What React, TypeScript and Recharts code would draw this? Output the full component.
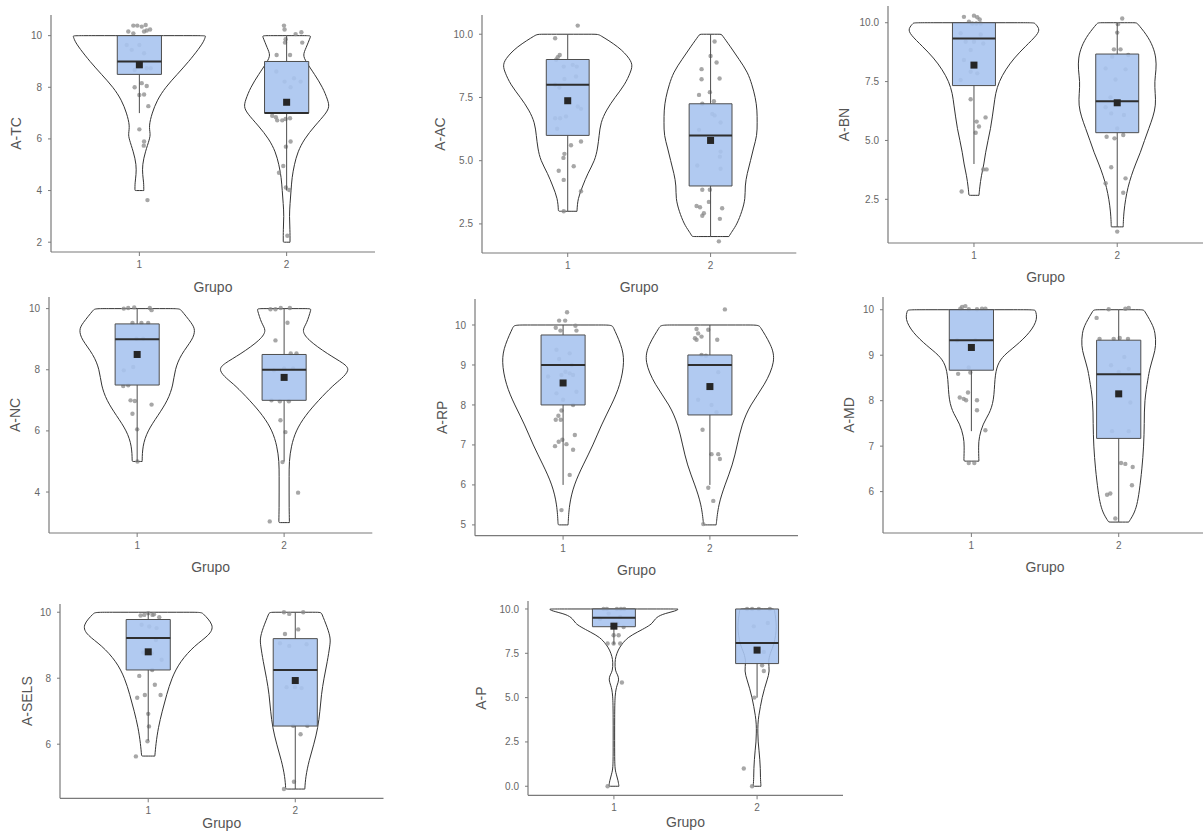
import {
  ComposedChart,
  Scatter,
  XAxis,
  YAxis,
  ReferenceArea,
  ReferenceLine,
} from "recharts";

type Pt = [number, number];

// ---- A-TC ----
const atcViolinY1 = [4, 4.3, 4.6, 5, 5.5, 6, 6.2, 6.5, 7, 7.5, 8, 8.5, 9, 9.5, 9.8, 10];
const atcViolinW1 = [0.03, 0.03, 0.022, 0.02, 0.04, 0.07, 0.075, 0.064, 0.086, 0.12, 0.177, 0.257, 0.336, 0.405, 0.44, 0.45];
const atcViolinY2 = [2, 2.5, 3, 3.5, 4, 4.5, 5, 5.5, 6, 6.5, 7, 7.25, 7.5, 8, 8.5, 9, 9.25, 9.5, 10];
const atcViolinW2 = [0.023, 0.023, 0.018, 0.023, 0.03, 0.036, 0.052, 0.075, 0.12, 0.19, 0.27, 0.29, 0.28, 0.245, 0.19, 0.13, 0.11, 0.13, 0.165];
const atcBox1 = [7, 8.5, 9, 10, 10];
const atcBox2 = [4, 7, 7, 9, 10];
const atcMeans = [8.87, 7.42];
const atcPoints1: Pt[] = [[-0.041, 10.39], [-0.014, 10.39], [0.016, 10.35], [0.043, 10.41], [0.073, 10.24], [-0.075, 10.16], [-0.041, 10.09], [0.032, 10.16], [0.05, 10.2], [-0.086, 9.64], [0.0, 9.64], [-0.052, 9.45], [0.032, 9.32], [-0.009, 8.8], [0.05, 8.74], [-0.032, 8.67], [0.077, 8.74], [0.016, 8.16], [-0.032, 8.0], [0.05, 8.05], [0.0, 7.7], [0.032, 7.72], [0.061, 7.27], [0.0, 6.37], [0.032, 5.9], [0.03, 5.74], [0.055, 3.63]];
const atcPoints2: Pt[] = [[-0.018, 10.39], [-0.014, 10.24], [0.061, 10.06], [0.1, 10.13], [-0.007, 9.86], [-0.011, 9.73], [0.106, 9.73], [-0.068, 9.25], [0.023, 9.25], [-0.07, 8.61], [-0.014, 8.22], [0.05, 8.35], [0.095, 8.22], [0.027, 8.0], [-0.098, 6.9], [-0.064, 6.72], [-0.03, 6.72], [-0.007, 6.77], [0.023, 6.8], [-0.073, 6.84], [-0.005, 5.7], [0.027, 5.9], [-0.023, 4.95], [-0.052, 4.69], [-0.005, 4.12], [0.018, 4.02], [0.005, 2.25]];

// ---- A-AC ----
const aacViolinY1 = [3, 3.5, 4, 4.5, 5, 5.5, 6, 6.5, 7, 7.5, 8, 8.5, 8.75, 9, 9.5, 10];
const aacViolinW1 = [0.065, 0.07, 0.105, 0.14, 0.19, 0.21, 0.22, 0.23, 0.27, 0.33, 0.4, 0.44, 0.453, 0.44, 0.36, 0.214];
const aacViolinY2 = [2, 2.2, 2.5, 3, 3.5, 4, 4.5, 5, 5.5, 6, 6.5, 7, 7.5, 8, 8.5, 9, 9.5, 10];
const aacViolinW2 = [0.128, 0.15, 0.186, 0.22, 0.244, 0.24, 0.256, 0.28, 0.3, 0.326, 0.326, 0.326, 0.314, 0.29, 0.26, 0.2, 0.14, 0.076];
const aacBox1 = [3, 6, 8, 9, 10];
const aacBox2 = [2, 4, 6, 7.25, 10];
const aacMeans = [7.37, 5.8];
const aacPoints1: Pt[] = [[-0.088, 9.84], [0.07, 10.34], [-0.07, 9.09], [-0.056, 9.18], [-0.081, 8.99], [-0.028, 8.72], [0.035, 8.79], [0.063, 8.72], [-0.023, 8.23], [0.058, 8.33], [-0.088, 8.0], [-0.058, 7.89], [0.07, 7.14], [0.093, 7.05], [-0.088, 6.68], [-0.053, 6.68], [-0.012, 6.75], [-0.074, 6.26], [0.023, 5.61], [0.093, 5.76], [-0.023, 5.27], [-0.03, 5.11], [0.042, 4.78], [-0.063, 4.6], [-0.028, 4.24], [0.093, 3.79], [-0.028, 3.0]];
const aacPoints2: Pt[] = [[0.028, 9.71], [0.0, 9.14], [0.042, 8.88], [-0.063, 8.62], [-0.063, 8.22], [0.063, 8.25], [-0.005, 7.71], [-0.081, 7.6], [0.023, 7.35], [-0.058, 7.25], [0.012, 6.85], [0.028, 6.79], [0.07, 6.51], [-0.081, 6.22], [0.07, 5.36], [0.065, 5.16], [-0.093, 4.81], [0.07, 4.68], [-0.058, 3.85], [-0.005, 3.85], [-0.012, 3.37], [-0.098, 3.21], [-0.074, 3.16], [-0.047, 2.92], [-0.058, 2.82], [0.081, 3.12], [0.065, 2.7], [0.058, 1.81]];

// ---- A-BN ----
const abnViolinY1 = [2.67, 3, 3.5, 4, 4.5, 5, 5.5, 6, 6.5, 7, 7.5, 8, 8.5, 9, 9.5, 9.75, 10];
const abnViolinW1 = [0.035, 0.04, 0.051, 0.07, 0.081, 0.098, 0.116, 0.128, 0.14, 0.15, 0.175, 0.22, 0.28, 0.36, 0.445, 0.46, 0.42];
const abnViolinY2 = [1.33, 1.5, 2, 2.5, 3, 3.5, 4, 4.5, 5, 5.5, 6, 6.5, 7, 7.5, 8, 8.5, 9, 9.5, 10];
const abnViolinW2 = [0.042, 0.042, 0.047, 0.058, 0.074, 0.098, 0.128, 0.163, 0.19, 0.22, 0.25, 0.27, 0.265, 0.26, 0.272, 0.272, 0.25, 0.205, 0.136];
const abnBox1 = [4, 7.33, 9.33, 10, 10];
const abnBox2 = [1.33, 5.33, 6.67, 8.67, 10];
const abnMeans = [8.2, 6.6];
const abnPoints1: Pt[] = [[-0.07, 10.25], [0.0, 10.3], [0.023, 10.23], [0.04, 10.14], [-0.035, 10.04], [-0.012, 9.97], [0.016, 9.97], [0.047, 9.97], [-0.093, 9.55], [0.047, 9.5], [-0.058, 9.19], [0.0, 9.19], [-0.023, 8.84], [0.065, 9.12], [-0.07, 8.42], [-0.023, 7.92], [0.023, 7.85], [-0.093, 7.57], [-0.023, 6.75], [0.019, 5.8], [0.035, 5.59], [0.012, 5.33], [0.081, 5.98], [0.065, 3.77], [0.088, 3.77], [-0.086, 2.83]];
const abnPoints2: Pt[] = [[0.035, 10.18], [0.005, 9.94], [0.0, 9.58], [-0.023, 8.87], [0.023, 8.87], [-0.035, 8.56], [0.077, 8.63], [0.058, 8.02], [-0.081, 8.06], [-0.012, 7.59], [-0.047, 6.83], [-0.081, 6.41], [-0.042, 6.15], [0.047, 6.08], [0.0, 5.51], [-0.074, 5.16], [-0.019, 5.09], [0.042, 5.23], [-0.042, 3.86], [-0.081, 3.18], [0.058, 3.39], [0.042, 2.78], [0.0, 1.13]];

// ---- A-NC ----
const ancViolinY1 = [5, 5.5, 6, 6.5, 7, 7.5, 8, 8.5, 9, 9.3, 9.5, 10];
const ancViolinW1 = [0.034, 0.036, 0.07, 0.141, 0.209, 0.245, 0.256, 0.297, 0.38, 0.395, 0.376, 0.29];
const ancViolinY2 = [3, 3.5, 4, 4.5, 5, 5.5, 6, 6.5, 7, 7.5, 7.7, 8, 8.2, 8.5, 9, 9.3, 9.5, 10];
const ancViolinW2 = [0.036, 0.034, 0.034, 0.034, 0.034, 0.048, 0.079, 0.143, 0.234, 0.335, 0.39, 0.449, 0.41, 0.3, 0.154, 0.12, 0.154, 0.184];
const ancBox1 = [5, 7.5, 9, 9.5, 10];
const ancBox2 = [5, 7, 8, 8.5, 10];
const ancMeans = [8.5, 7.75];
const ancPoints1: Pt[] = [[-0.091, 10.0], [-0.061, 10.02], [-0.02, 10.04], [0.086, 10.02], [0.098, 9.95], [-0.032, 9.53], [0.029, 9.53], [0.075, 9.53], [-0.005, 9.02], [0.041, 9.02], [-0.027, 8.09], [-0.091, 7.98], [-0.061, 7.49], [-0.095, 7.47], [-0.045, 7.0], [-0.016, 6.98], [-0.032, 6.56], [0.098, 6.86], [0.0, 6.05], [0.002, 5.0]];
const ancPoints2: Pt[] = [[-0.093, 9.98], [-0.059, 9.98], [-0.023, 10.02], [0.039, 10.02], [0.023, 9.54], [-0.059, 8.96], [0.045, 8.53], [0.084, 8.53], [-0.07, 7.98], [0.0, 8.04], [0.061, 8.04], [-0.086, 7.0], [-0.029, 6.97], [0.032, 6.97], [-0.025, 6.35], [0.009, 5.96], [-0.011, 4.98], [0.095, 3.98], [-0.098, 3.04]];

// ---- A-RP ----
const arpViolinY1 = [5, 5.5, 6, 6.5, 7, 7.5, 8, 8.5, 9.1, 9.5, 10];
const arpViolinW1 = [0.034, 0.041, 0.073, 0.136, 0.205, 0.26, 0.33, 0.39, 0.42, 0.398, 0.334];
const arpViolinY2 = [5, 5.5, 6, 6.5, 7, 7.5, 8, 8.5, 9.1, 9.5, 10];
const arpViolinW2 = [0.043, 0.057, 0.102, 0.155, 0.186, 0.216, 0.273, 0.375, 0.448, 0.42, 0.334];
const arpBox1 = [6, 8, 9, 9.75, 10];
const arpBox2 = [6, 7.75, 9, 9.25, 10];
const arpMeans = [8.55, 8.46];
const arpPoints1: Pt[] = [[0.027, 10.32], [-0.027, 10.11], [0.014, 10.11], [-0.05, 9.93], [-0.018, 9.86], [0.084, 9.98], [0.091, 9.86], [-0.045, 9.38], [0.045, 9.29], [-0.027, 9.15], [0.059, 9.0], [0.016, 8.83], [0.045, 8.79], [-0.011, 8.75], [-0.102, 8.71], [0.068, 8.75], [-0.045, 8.29], [0.091, 8.33], [0.0, 8.13], [0.068, 8.0], [-0.011, 7.86], [-0.032, 7.73], [-0.05, 7.63], [-0.016, 7.63], [0.08, 7.25], [-0.005, 7.13], [-0.03, 7.08], [0.023, 7.02], [-0.055, 6.97], [0.068, 6.88], [0.045, 6.25], [-0.011, 5.37]];
const arpPoints2: Pt[] = [[0.102, 10.39], [-0.091, 9.9], [-0.011, 9.88], [-0.08, 9.79], [-0.102, 9.67], [-0.091, 9.63], [-0.057, 9.71], [0.05, 9.63], [-0.057, 9.25], [-0.027, 9.23], [0.057, 8.82], [-0.08, 8.13], [0.011, 8.0], [0.045, 7.82], [-0.05, 7.38], [0.011, 6.77], [0.057, 6.77], [0.068, 6.65], [-0.011, 5.93], [0.023, 5.6], [-0.045, 5.02]];

// ---- A-MD ----
const amdViolinY1 = [6.67, 7, 7.2, 7.5, 7.7, 8, 8.5, 8.8, 9, 9.2, 9.5, 9.8, 10];
const amdViolinW1 = [0.051, 0.048, 0.052, 0.079, 0.12, 0.154, 0.158, 0.176, 0.22, 0.3, 0.4, 0.452, 0.432];
const amdViolinY2 = [5.33, 5.5, 5.7, 6, 6.5, 7, 7.5, 8, 8.5, 8.7, 9, 9.2, 9.5, 9.7, 10];
const amdViolinW2 = [0.068, 0.102, 0.124, 0.14, 0.158, 0.17, 0.174, 0.174, 0.2, 0.21, 0.238, 0.253, 0.249, 0.226, 0.17];
const amdBox1 = [7.33, 8.67, 9.33, 10, 10];
const amdBox2 = [5.33, 7.17, 8.58, 9.33, 10];
const amdMeans = [9.17, 8.15];
const amdPoints1: Pt[] = [[-0.063, 10.06], [-0.041, 10.08], [-0.075, 10.02], [-0.018, 10.01], [0.038, 10.01], [0.072, 10.02], [0.095, 10.02], [-0.097, 9.33], [0.027, 9.33], [-0.018, 8.73], [-0.09, 8.59], [-0.007, 8.62], [-0.079, 8.07], [-0.052, 8.04], [-0.036, 8.01], [-0.023, 8.18], [0.038, 8.01], [0.038, 7.79], [0.095, 7.35], [-0.018, 6.63], [0.02, 6.63]];
const amdPoints2: Pt[] = [[-0.068, 10.01], [0.068, 10.04], [0.045, 10.02], [-0.15, 9.82], [-0.13, 9.36], [-0.034, 9.36], [0.007, 9.38], [0.063, 9.36], [0.038, 8.96], [-0.052, 8.78], [0.0, 8.63], [0.068, 8.7], [-0.016, 8.15], [0.079, 7.96], [-0.045, 7.33], [0.068, 7.33], [0.016, 6.63], [0.045, 6.61], [0.095, 6.54], [-0.079, 5.93], [-0.057, 5.96], [0.09, 6.14], [-0.023, 5.41]];

// ---- A-SELS ----
const aselsViolinY1 = [5.64, 6, 6.5, 7, 7.5, 8, 8.5, 9, 9.3, 9.6, 10];
const aselsViolinW1 = [0.045, 0.052, 0.068, 0.095, 0.125, 0.159, 0.215, 0.317, 0.415, 0.453, 0.363];
const aselsViolinY2 = [4.64, 5, 5.5, 6, 6.5, 7, 7.5, 8, 8.5, 9, 9.2, 9.5, 10];
const aselsViolinW2 = [0.065, 0.07, 0.093, 0.127, 0.154, 0.168, 0.177, 0.195, 0.218, 0.236, 0.24, 0.222, 0.176];
const aselsBox1 = [6.11, 8.25, 9.22, 9.78, 10];
const aselsBox2 = [4.64, 6.55, 8.25, 9.2, 10];
const aselsMeans = [8.8, 7.93];
const aselsPoints1: Pt[] = [[-0.052, 9.9], [-0.027, 9.92], [0.0, 9.97], [0.029, 9.92], [0.039, 9.94], [0.075, 9.85], [0.007, 9.57], [-0.045, 9.62], [0.057, 9.52], [0.052, 9.16], [0.023, 8.76], [-0.034, 8.78], [0.091, 8.56], [0.027, 8.25], [-0.061, 8.07], [0.045, 7.8], [-0.075, 7.41], [-0.023, 7.49], [0.084, 7.49], [0.0, 6.92], [0.005, 6.54], [-0.005, 6.09], [-0.084, 5.63]];
const aselsPoints2: Pt[] = [[-0.077, 10.0], [-0.041, 9.95], [0.054, 10.0], [-0.07, 9.34], [0.02, 9.48], [-0.104, 9.06], [-0.041, 8.98], [0.077, 9.03], [-0.059, 7.73], [-0.002, 7.73], [0.043, 7.7], [-0.014, 6.56], [0.082, 6.56], [0.036, 6.3], [-0.009, 4.86], [-0.077, 4.64]];

// ---- A-P ----
const apViolinY1 = [0, 0.3, 0.7, 1, 2, 4, 5.2, 5.7, 6, 6.3, 6.5, 7, 7.3, 7.7, 8, 8.4, 8.7, 9, 9.2, 9.45, 9.7, 9.9, 10];
const apViolinW1 = [0.035, 0.03, 0.016, 0.006, 0.005, 0.005, 0.007, 0.021, 0.037, 0.026, 0.009, 0.007, 0.012, 0.03, 0.054, 0.096, 0.165, 0.235, 0.27, 0.287, 0.33, 0.44, 0.449];
const apViolinY2 = [0, 0.5, 1, 1.5, 2, 2.5, 3, 3.5, 4, 4.5, 5, 5.5, 6, 6.5, 7, 7.5, 8, 9, 10];
const apViolinW2 = [0.027, 0.023, 0.023, 0.019, 0.014, 0.007, 0.005, 0.005, 0.012, 0.023, 0.035, 0.051, 0.07, 0.089, 0.077, 0.09, 0.12, 0.14, 0.12];
const apBox1 = [8, 9, 9.5, 10, 10];
const apBox2 = [5, 6.92, 8.08, 10, 10];
const apMeans = [9.03, 7.68];
const apPoints1: Pt[] = [[-0.072, 10.0], [-0.049, 10.0], [0.021, 10.0], [0.049, 10.0], [0.072, 10.0], [-0.096, 9.45], [-0.037, 9.74], [0.044, 9.55], [-0.007, 9.17], [0.026, 9.17], [0.068, 8.98], [-0.002, 8.52], [0.033, 8.52], [-0.044, 8.05], [0.044, 8.05], [-0.002, 8.05], [0.056, 5.85], [-0.044, 0.0]];
const apPoints2: Pt[] = [[-0.07, 10.0], [-0.035, 10.0], [0.012, 10.0], [0.089, 10.0], [-0.023, 9.02], [0.075, 9.21], [-0.012, 7.76], [0.047, 7.58], [0.035, 6.82], [0.047, 6.5], [-0.019, 5.0], [-0.093, 1.0], [-0.035, 0.0]];

const GROUPS = [1, 2];
const BOX_HALF = 0.15;
const YW = 60;
const MT = 10;
const MR = 10;
const XH = 50;

interface PanelSpec {
  name: string;
  left: number;
  right: number;
  top: number;
  bottom: number;
  yDomain: [number, number];
  yTicks: number[];
  decimals: number;
  yLabelGap: number;
  xLabelGap: number;
  violins: [number[], number[]][];
  boxes: number[][];
  means: number[];
  points: Pt[][];
}

const panels: PanelSpec[] = [
  { name: "A-TC", left: 51, right: 375, top: 15, bottom: 252, yDomain: [1.62, 10.8], yTicks: [2, 4, 6, 8, 10], decimals: 0, yLabelGap: 35, xLabelGap: 35,
    violins: [[atcViolinY1, atcViolinW1], [atcViolinY2, atcViolinW2]], boxes: [atcBox1, atcBox2], means: atcMeans, points: [atcPoints1, atcPoints2] },
  { name: "A-AC", left: 481.7, right: 796, top: 15, bottom: 253, yDomain: [1.35, 10.76], yTicks: [2.5, 5, 7.5, 10], decimals: 1, yLabelGap: 42, xLabelGap: 34,
    violins: [[aacViolinY1, aacViolinW1], [aacViolinY2, aacViolinW2]], boxes: [aacBox1, aacBox2], means: aacMeans, points: [aacPoints1, aacPoints2] },
  { name: "A-BN", left: 887.5, right: 1202.7, top: 6, bottom: 243, yDomain: [0.645, 10.71], yTicks: [2.5, 5, 7.5, 10], decimals: 1, yLabelGap: 44, xLabelGap: 34,
    violins: [[abnViolinY1, abnViolinW1], [abnViolinY2, abnViolinW2]], boxes: [abnBox1, abnBox2], means: abnMeans, points: [abnPoints1, abnPoints2] },
  { name: "A-NC", left: 49.2, right: 372.5, top: 296.7, bottom: 532.7, yDomain: [2.66, 10.38], yTicks: [4, 6, 8, 10], decimals: 0, yLabelGap: 34, xLabelGap: 34,
    violins: [[ancViolinY1, ancViolinW1], [ancViolinY2, ancViolinW2]], boxes: [ancBox1, ancBox2], means: ancMeans, points: [ancPoints1, ancPoints2] },
  { name: "A-RP", left: 475, right: 798, top: 299, bottom: 535.7, yDomain: [4.73, 10.65], yTicks: [5, 6, 7, 8, 9, 10], decimals: 0, yLabelGap: 33, xLabelGap: 34,
    violins: [[arpViolinY1, arpViolinW1], [arpViolinY2, arpViolinW2]], boxes: [arpBox1, arpBox2], means: arpMeans, points: [arpPoints1, arpPoints2] },
  { name: "A-MD", left: 882.6, right: 1206.7, top: 296.7, bottom: 532.7, yDomain: [5.09, 10.28], yTicks: [6, 7, 8, 9, 10], decimals: 0, yLabelGap: 34, xLabelGap: 34,
    violins: [[amdViolinY1, amdViolinW1], [amdViolinY2, amdViolinW2]], boxes: [amdBox1, amdBox2], means: amdMeans, points: [amdPoints1, amdPoints2] },
  { name: "A-SELS", left: 60, right: 383.5, top: 604, bottom: 798.3, yDomain: [4.36, 10.25], yTicks: [6, 8, 10], decimals: 0, yLabelGap: 33, xLabelGap: 24.5,
    violins: [[aselsViolinY1, aselsViolinW1], [aselsViolinY2, aselsViolinW2]], boxes: [aselsBox1, aselsBox2], means: aselsMeans, points: [aselsPoints1, aselsPoints2] },
  { name: "A-P", left: 527.5, right: 842.5, top: 600.7, bottom: 795, yDomain: [-0.51, 10.45], yTicks: [0, 2.5, 5, 7.5, 10], decimals: 1, yLabelGap: 47, xLabelGap: 26.5,
    violins: [[apViolinY1, apViolinW1], [apViolinY2, apViolinW2]], boxes: [apBox1, apBox2], means: apMeans, points: [apPoints1, apPoints2] },
];

// closed outline: up the right side, across the flat top, down the left side;
// corners doubled so the smoothed curve keeps flat ends
function violinOutline(center: number, ys: number[], ws: number[]) {
  const right = ys.map((y, i) => ({ x: center + ws[i], y }));
  const left = ys.map((y, i) => ({ x: center - ws[i], y })).reverse();
  const n = right.length - 1;
  return [right[0], ...right, right[n], left[0], ...left, left[n], right[0]];
}

const noShape = () => <g />;
const dotShape = (p: any) => <circle cx={p.cx} cy={p.cy} r={2.2} fill="#8a8a8a" fillOpacity={0.75} />;
const meanShape = (p: any) => <rect x={p.cx - 3.5} y={p.cy - 3.5} width={7} height={7} fill="#262626" />;

function Panel({ spec }: { spec: PanelSpec }) {
  const width = spec.right - spec.left + YW + MR;
  const height = spec.bottom - spec.top + MT + XH;
  const axisColor = "#7a7a7a";
  const boxStroke = "#4d4d4d";

  return (
    <div style={{ position: "absolute", left: spec.left - YW, top: spec.top - MT }}>
      <ComposedChart width={width} height={height} margin={{ top: MT, right: MR, left: 0, bottom: 0 }}>
        <XAxis
          dataKey="x"
          type="number"
          domain={[0.4, 2.6]}
          ticks={GROUPS}
          interval={0}
          allowDataOverflow
          height={XH}
          axisLine={{ stroke: axisColor, strokeWidth: 1.2 }}
          tickLine={{ stroke: axisColor }}
          tickSize={4}
          tickMargin={5}
          tick={{ fill: "#666", fontSize: 10 }}
          label={{ value: "Grupo", position: "insideBottom", offset: XH - spec.xLabelGap - 5, fill: "#555", fontSize: 14 }}
        />
        <YAxis
          dataKey="y"
          type="number"
          domain={spec.yDomain}
          ticks={spec.yTicks}
          interval={0}
          allowDataOverflow
          width={YW}
          axisLine={{ stroke: axisColor, strokeWidth: 1.2 }}
          tickLine={{ stroke: axisColor }}
          tickSize={3}
          tickMargin={6}
          tick={{ fill: "#666", fontSize: 10 }}
          tickFormatter={(v: number) => v.toFixed(spec.decimals)}
          label={{ value: spec.name, angle: -90, position: "insideLeft", offset: YW - spec.yLabelGap, style: { textAnchor: "middle" }, fill: "#555", fontSize: 14 }}
        />

        {spec.violins.map(([ys, ws], i) => (
          <Scatter
            key={`v${i}`}
            data={violinOutline(GROUPS[i], ys, ws)}
            line={{ stroke: "#333", strokeWidth: 1 }}
            lineJointType="basis"
            shape={noShape}
            isAnimationActive={false}
            zIndex={100}
          />
        ))}

        {spec.points.map((pts, i) => (
          <Scatter
            key={`p${i}`}
            data={pts.map(([dx, y]) => ({ x: GROUPS[i] + dx, y }))}
            shape={dotShape}
            isAnimationActive={false}
            zIndex={110}
          />
        ))}

        {spec.boxes.map(([, q1, , q3], i) => (
          <ReferenceArea
            key={`b${i}`}
            x1={GROUPS[i] - BOX_HALF}
            x2={GROUPS[i] + BOX_HALF}
            y1={q1}
            y2={q3}
            fill="#a8c4ef"
            fillOpacity={0.9}
            stroke={boxStroke}
            strokeWidth={1}
            zIndex={120}
          />
        ))}

        {spec.boxes.map(([lo, q1], i) =>
          lo < q1 ? (
            <ReferenceLine key={`wl${i}`} segment={[{ x: GROUPS[i], y: lo }, { x: GROUPS[i], y: q1 }]} stroke={boxStroke} strokeWidth={1} zIndex={130} />
          ) : null
        )}
        {spec.boxes.map(([, , , q3, hi], i) =>
          hi > q3 ? (
            <ReferenceLine key={`wh${i}`} segment={[{ x: GROUPS[i], y: q3 }, { x: GROUPS[i], y: hi }]} stroke={boxStroke} strokeWidth={1} zIndex={130} />
          ) : null
        )}
        {spec.boxes.map(([, , med], i) => (
          <ReferenceLine
            key={`m${i}`}
            segment={[{ x: GROUPS[i] - BOX_HALF, y: med }, { x: GROUPS[i] + BOX_HALF, y: med }]}
            stroke="#2e2e2e"
            strokeWidth={2}
            zIndex={140}
          />
        ))}

        <Scatter
          data={spec.means.map((m, i) => ({ x: GROUPS[i], y: m }))}
          shape={meanShape}
          isAnimationActive={false}
          zIndex={150}
        />
      </ComposedChart>
    </div>
  );
}

export default function App() {
  return (
    <div
      style={{
        position: "absolute",
        left: 0,
        top: 0,
        width: 1203,
        height: 832,
        overflow: "hidden",
        background: "#fff",
        fontFamily: "'Liberation Sans', Arial, sans-serif",
      }}
    >
      {panels.map((p) => (
        <Panel key={p.name} spec={p} />
      ))}
    </div>
  );
}
